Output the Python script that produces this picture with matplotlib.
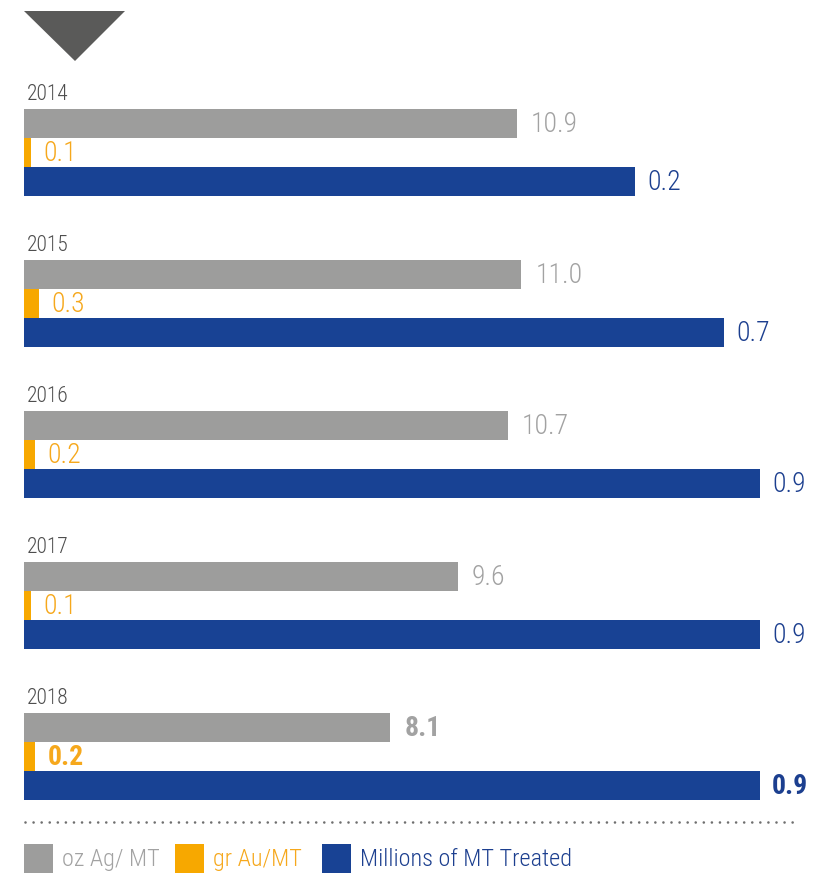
import os
import matplotlib
matplotlib.use("Agg")
import matplotlib.pyplot as plt
import matplotlib.font_manager as fm
from matplotlib.patches import Polygon, Rectangle
from matplotlib.lines import Line2D

# ---- data -------------------------------------------------------------
years = ["2014", "2015", "2016", "2017", "2018"]
silver_oz_per_mt = [10.9, 11.0, 10.7, 9.6, 8.1]
gold_gr_per_mt = [0.1, 0.3, 0.2, 0.1, 0.2]
treated_mmt = [0.2, 0.7, 0.9, 0.9, 0.9]
series_names = ["oz Ag/ MT", "gr Au/MT", "Millions of MT Treated"]

# ---- style ------------------------------------------------------------
C_SILVER, C_GOLD, C_BLUE = "#9d9d9c", "#f7a800", "#184294"
T_SILVER, T_GOLD, T_BLUE = "#a2a2a2", "#f6a81c", "#1c3f8f"
C_YEAR = "#4e4e4e"


def find_font(patterns):
    files = [f.fname for f in fm.fontManager.ttflist]
    for pat in patterns:
        for path in files:
            if os.path.basename(path).lower().startswith(pat.lower()):
                return path
    return None


light_file = find_font(["NotoSans-CondensedLight.", "OpenSans_Condensed-Light",
                        "OpenSansCondensed-Light", "RobotoCondensed-Light",
                        "LiberationSansNarrow-Regular", "NotoSans-Condensed.",
                        "DejaVuSansCondensed."])
bold_file = find_font(["NotoSans-CondensedBold.", "OpenSans_Condensed-Bold",
                       "OpenSansCondensed-Bold", "RobotoCondensed-Bold",
                       "LiberationSansNarrow-Bold", "DejaVuSansCondensed-Bold."])

if light_file:
    FP_LIGHT = fm.FontProperties(fname=light_file, size=20)
    FP_LEGEND = fm.FontProperties(fname=light_file, size=17.5)
    FP_YEAR = fm.FontProperties(fname=light_file, size=15.5)
else:
    FP_LIGHT = fm.FontProperties(family="Roboto", weight="light", size=17)
    FP_LEGEND = fm.FontProperties(family="Roboto", weight="light", size=15)
    FP_YEAR = fm.FontProperties(family="Roboto", weight="light", size=13)
if bold_file:
    FP_BOLD = fm.FontProperties(fname=bold_file, size=20)
else:
    FP_BOLD = fm.FontProperties(family="Roboto", weight="bold", size=17)

W, H = 817, 879
fig = plt.figure(figsize=(W / 100, H / 100), dpi=100)
fig.patch.set_facecolor("white")

# each series is drawn on its own overlaid axes with its own x scale
rect = [24 / W, 0, (W - 24) / W, 1]
ax_s = fig.add_axes(rect, label="silver")
ax_g = fig.add_axes(rect, label="gold")
ax_b = fig.add_axes(rect, label="treated")

ax_s.set_xlim(0, 17.54)
ax_g.set_xlim(-0.072, 19.04)
ax_b.set_xlim(-3.221, 1.219)

for ax in (ax_s, ax_g, ax_b):
    ax.set_ylim(H, 0)
    ax.set_facecolor("none")
    ax.axis("off")

BAR_H = 29
GROUP_STEP = 151
FIRST_TOP = 110

n = len(years)
for i in range(n):
    top = FIRST_TOP + GROUP_STEP * i
    fp = FP_BOLD if i == n - 1 else FP_LIGHT
    rows = [
        (ax_s, silver_oz_per_mt[i], C_SILVER, T_SILVER, top + BAR_H * 0.5, 14),
        (ax_g, gold_gr_per_mt[i], C_GOLD, T_GOLD, top + BAR_H * 1.5, 12),
        (ax_b, treated_mmt[i], C_BLUE, T_BLUE, top + BAR_H * 2.5, 12),
    ]
    for ax, val, col, tcol, yc, pad in rows:
        base = ax.get_xlim()[0]
        ax.barh(yc, val - base, left=base, height=BAR_H, color=col, linewidth=0)
        ax.annotate(f"{val:.1f}", (val, yc), xytext=(pad, 0),
                    textcoords="offset pixels", va="center", ha="left",
                    color=tcol, fontproperties=fp)
    ax_s.annotate(years[i], (0, top - 15), xytext=(3, 0),
                  textcoords="offset pixels", va="center", ha="left",
                  color=C_YEAR, fontproperties=FP_YEAR)

# ---- decorations in figure pixel space -------------------------------
def fx(px):
    return px / W

def fy(py):
    return 1 - py / H

fig.patches.append(Polygon([(fx(24), fy(12)), (fx(125), fy(12)), (fx(75), fy(62))],
                           closed=True, transform=fig.transFigure,
                           facecolor="#5a5a59", edgecolor="none"))

fig.lines.append(Line2D([fx(25), fx(800)], [fy(823), fy(823)],
                        transform=fig.transFigure, color="#6f6f6f",
                        linewidth=1.9, linestyle=(0, (0.01, 3.05)),
                        dash_capstyle="round"))

legend_x = [24, 175, 322]
legend_cols = [C_SILVER, C_GOLD, C_BLUE]
legend_tcols = [T_SILVER, T_GOLD, T_BLUE]
for x0, name, col, tcol in zip(legend_x, series_names, legend_cols, legend_tcols):
    fig.patches.append(Rectangle((fx(x0), fy(874)), 29 / W, 29 / H,
                                 transform=fig.transFigure,
                                 facecolor=col, edgecolor="none"))
    fig.text(fx(x0 + 38), fy(860), name, color=tcol,
             fontproperties=FP_LEGEND, va="center", ha="left")

fig.savefig("out.png", dpi=100, facecolor="white")
